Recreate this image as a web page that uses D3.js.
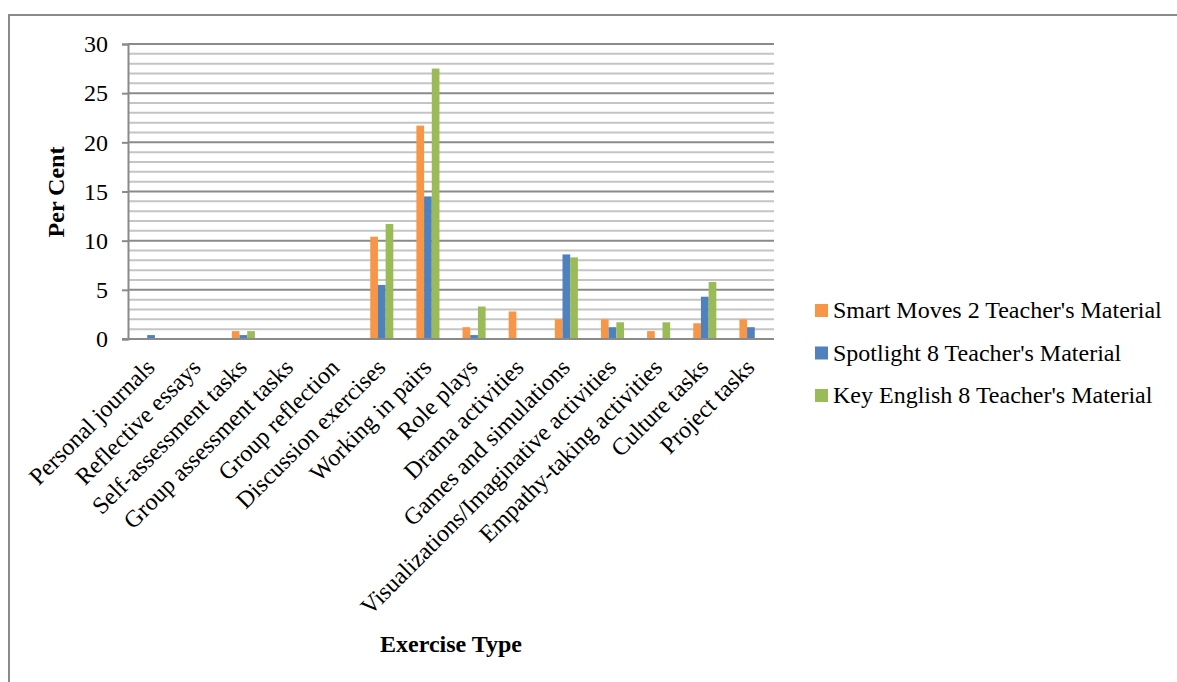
<!DOCTYPE html>
<html>
<head>
<meta charset="utf-8">
<script src="https://cdn.jsdelivr.net/npm/d3@7"></script>
<style>
  html, body { margin: 0; padding: 0; background: #fff; }
  svg { display: block; }
  text { font-family: "Liberation Serif", "Times New Roman", serif; fill: #000; }
</style>
</head>
<body>
<svg id="chart" width="1177" height="682" font-family="Liberation Serif"></svg>
<script>
const categories = ["Personal journals","Reflective essays","Self-assessment tasks","Group assessment tasks","Group reflection","Discussion exercises","Working in pairs","Role plays","Drama activities","Games and simulations","Visualizations/Imaginative activities","Empathy-taking activities","Culture tasks","Project tasks"];
const seriesNames = ["Smart Moves 2 Teacher's Material","Spotlight 8 Teacher's Material","Key English 8 Teacher's Material"];
const smartMoves = [0, 0, 0.8, 0, 0, 10.4, 21.7, 1.2, 2.8, 2.0, 2.0, 0.8, 1.6, 2.0];
const spotlight  = [0.4, 0, 0.4, 0, 0, 5.5, 14.5, 0.4, 0, 8.6, 1.2, 0, 4.3, 1.2];
const keyEnglish = [0, 0, 0.8, 0, 0, 11.7, 27.5, 3.3, 0, 8.3, 1.7, 1.7, 5.8, 0];
const yTicks = [0, 5, 10, 15, 20, 25, 30];
const colors = ["#F79646", "#4F81BD", "#9BBB59"];

const seriesValues = [smartMoves, spotlight, keyEnglish];
const FONT = "Liberation Serif";
const FS = 24;
const svg = d3.select("#chart");

// outer frame
svg.append("rect").attr("x", 9).attr("y", 15).attr("width", 1300).attr("height", 800)
  .attr("fill", "none").attr("stroke", "#8a8a8a").attr("stroke-width", 2);

const plot = { left: 128, right: 774, top: 44, bottom: 339 };

const x = d3.scaleBand().domain(categories).range([plot.left, plot.right]).paddingInner(0.5).paddingOuter(0.25);
const xOuter = d3.scaleBand().domain(categories).range([plot.left, plot.right]);
const xs = d3.scaleBand().domain(d3.range(seriesNames.length)).range([0, x.bandwidth()]);
const y = d3.scaleLinear().domain([0, 30]).range([plot.bottom, plot.top]);

// minor gridlines
const minor = d3.range(1, 30).filter(v => v % 5 !== 0);
svg.append("g").selectAll("line").data(minor).join("line")
  .attr("x1", plot.left).attr("x2", plot.right)
  .attr("y1", d => y(d)).attr("y2", d => y(d))
  .attr("stroke", "#c4c4c4").attr("stroke-width", 2);
// major gridlines
svg.append("g").selectAll("line").data(yTicks.filter(v => v > 0)).join("line")
  .attr("x1", plot.left).attr("x2", plot.right)
  .attr("y1", d => y(d)).attr("y2", d => y(d))
  .attr("stroke", "#8a8a8a").attr("stroke-width", 2);

// bars
const groups = svg.append("g").selectAll("g").data(categories).join("g")
  .attr("transform", d => `translate(${x(d)},0)`);
groups.selectAll("rect").data((d, i) => seriesValues.map((s, k) => ({ k, v: s[i] }))).join("rect")
  .attr("x", d => xs(d.k)).attr("width", xs.bandwidth())
  .attr("y", d => y(d.v)).attr("height", d => y(0) - y(d.v))
  .attr("fill", d => colors[d.k]);

// y axis
const yAxis = svg.append("g").attr("transform", `translate(${plot.left},0)`)
  .call(d3.axisLeft(y).tickValues(yTicks).tickSize(6).tickPadding(14).tickFormat(d3.format("d")));
yAxis.attr("font-family", FONT).attr("font-size", FS);
yAxis.select(".domain").attr("stroke", "#8a8a8a").attr("stroke-width", 2);
yAxis.selectAll(".tick line").attr("stroke", "#8a8a8a").attr("stroke-width", 2);
yAxis.selectAll(".tick text").attr("font-size", FS).attr("font-family", FONT).attr("fill", "#000");

// x axis line
svg.append("line").attr("x1", plot.left - 6).attr("x2", plot.right)
  .attr("y1", y(0)).attr("y2", y(0)).attr("stroke", "#8a8a8a").attr("stroke-width", 2);

// x labels
svg.append("g").selectAll("text").data(categories).join("text")
  .attr("transform", d => `translate(${xOuter(d) + xOuter.bandwidth() / 2 + 5},369) rotate(-45)`)
  .attr("text-anchor", "end")
  .attr("font-family", FONT)
  .attr("font-size", FS)
  .text(d => d);

// axis titles
svg.append("text").attr("transform", "translate(64,192) rotate(-90)")
  .attr("text-anchor", "middle").attr("font-family", FONT).attr("font-size", FS).attr("font-weight", "bold").text("Per Cent");
svg.append("text").attr("x", 451).attr("y", 652)
  .attr("text-anchor", "middle").attr("font-family", FONT).attr("font-size", FS).attr("font-weight", "bold").text("Exercise Type");

// legend
const legend = svg.append("g").selectAll("g").data(seriesNames).join("g")
  .attr("transform", (d, i) => `translate(815,${304 + i * 42.5})`);
legend.append("rect").attr("width", 13).attr("height", 13).attr("fill", (d, i) => colors[i]);
legend.append("text").attr("x", 18).attr("y", 14).attr("font-family", FONT).attr("font-size", FS).text(d => d);
</script>
</body>
</html>
